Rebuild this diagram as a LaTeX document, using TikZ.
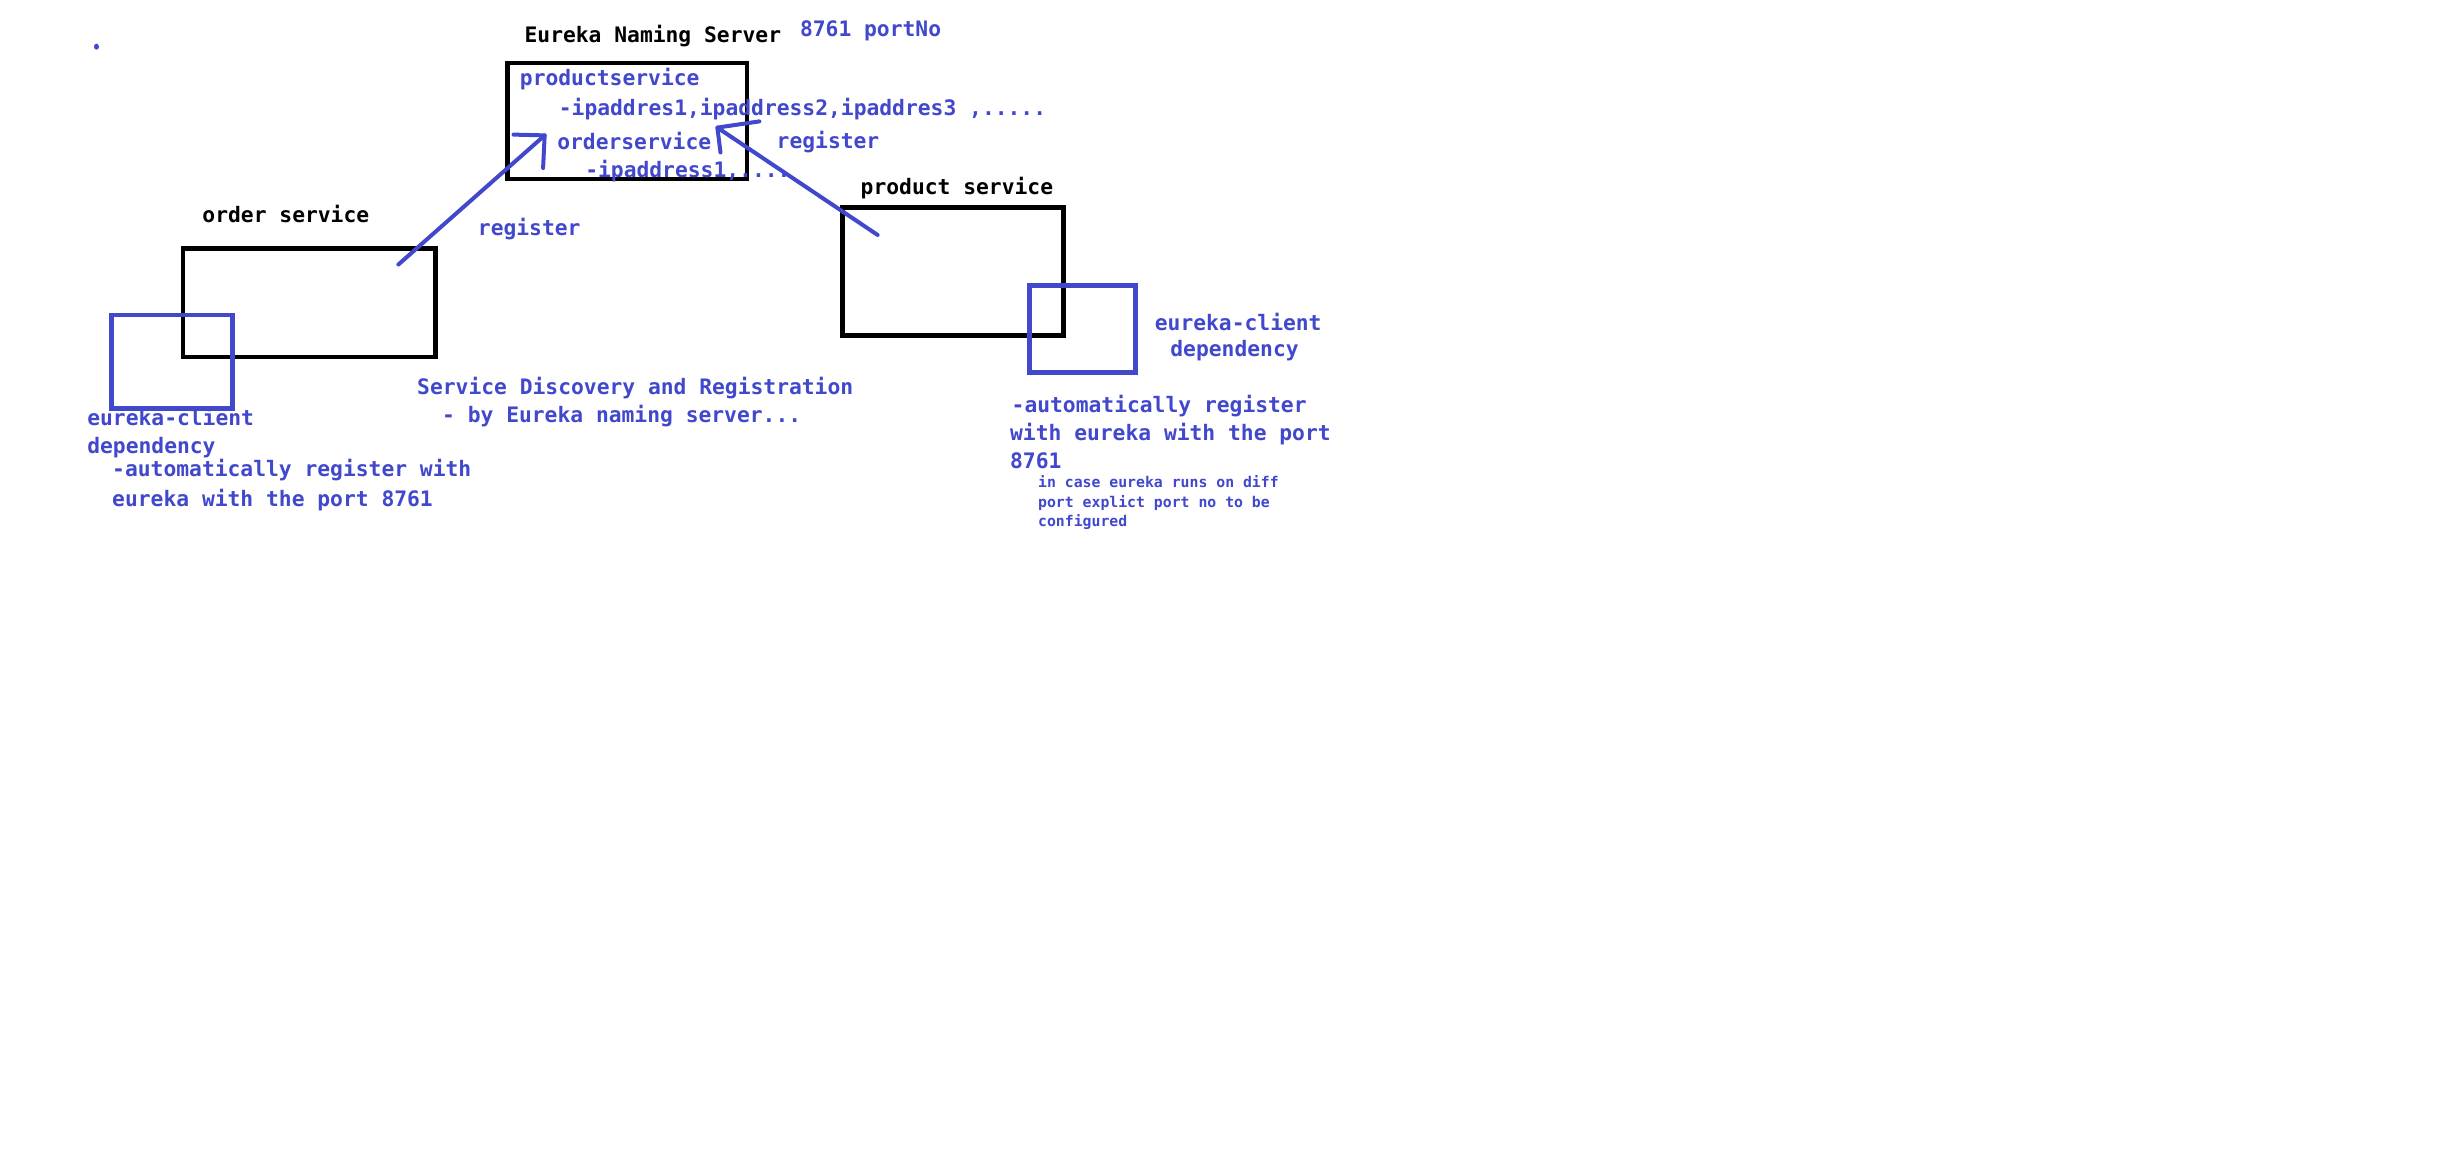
\documentclass[tikz,border=0pt]{standalone}
\usepackage{fontspec}
\setmonofont{DejaVu Sans Mono}
\usetikzlibrary{fit,shapes.geometric}
\definecolor{ink}{RGB}{65,72,204}
\begin{document}
\begin{tikzpicture}[x=1.55612pt,y=-1.55612pt,
  txt/.style={anchor=mid west, inner sep=0, yshift=-6pt, font=\ttfamily\bfseries\fontsize{21.3}{28}\selectfont},
  bluetxt/.style={txt, text=ink},
  blacktxt/.style={txt, text=black},
  smalltxt/.style={anchor=mid west, inner sep=0, yshift=-3pt, text=ink, font=\ttfamily\bfseries\fontsize{14.8}{19}\selectfont},
  blackbox/.style={draw=black, line width=4.6pt, inner sep=0},
  bluebox/.style={draw=ink, line width=4.6pt, inner sep=0},
  pen/.style={draw=ink, line width=4pt, line cap=round, line join=round}]
\useasboundingbox[fill=white] (0,0) rectangle (1568,755.7);

% dot
\node[fill=ink, ellipse, inner sep=0, minimum width=5pt, minimum height=6pt] (dot) at (62,30) {};

% box corners
\coordinate (e1) at (326,40.5); \coordinate (e2) at (480,115);
\coordinate (o1) at (117.5,159.5); \coordinate (o2) at (280,229.5);
\coordinate (l1) at (71.5,202.5); \coordinate (l2) at (149.5,262.5);
\coordinate (p1) at (541.5,133.5); \coordinate (p2) at (683.5,215.5);
\coordinate (r1) at (661.5,183.5); \coordinate (r2) at (729.5,239.5);

\node[blackbox, fit=(e1)(e2)] (eureka) {};
\node[blackbox, fit=(o1)(o2)] (order) {};
\node[blackbox, fit=(p1)(p2)] (product) {};
\node[bluebox, fit=(l1)(l2)] (lclient) {};
\node[bluebox, fit=(r1)(r2)] (rclient) {};

% arrows
\coordinate (os) at (256,170); \coordinate (ot) at (350,87);
\coordinate (oh1) at (330,86.5); \coordinate (oh2) at (349,108);
\coordinate (ps) at (564,151); \coordinate (pt) at (461,82);
\coordinate (ph1) at (488,78); \coordinate (ph2) at (463,98);
\draw[pen] (os) -- (ot);
\draw[pen] (oh1) -- (ot) -- (oh2);
\draw[pen] (ps) -- (pt);
\draw[pen] (ph1) -- (pt) -- (ph2);

% texts
\node[blacktxt] (tEureka) at (337,22) {Eureka Naming Server};
\node[bluetxt] (tPort) at (514,18) {8761 portNo};
\node[bluetxt] (tPs) at (334,50) {productservice};
\node[bluetxt] (tPsIp) at (359,69) {-ipaddres1,ipaddress2,ipaddres3 ,.....};
\node[bluetxt] (tOs) at (358,91) {orderservice};
\node[bluetxt] (tOsIp) at (376,109) {-ipaddress1,....};
\node[bluetxt] (tRegR) at (499,90) {register};
\node[blacktxt] (tOrder) at (130,138) {order service};
\node[bluetxt] (tRegL) at (307,146) {register};
\node[blacktxt] (tProduct) at (553,120) {product service};

\node[bluetxt] (tRc1) at (742,207) {eureka-client};
\node[bluetxt] (tRc2) at (752,224) {dependency};
\node[bluetxt] (tRa1) at (650,260) {-automatically register};
\node[bluetxt] (tRa2) at (649,278) {with eureka with the port};
\node[bluetxt] (tRa3) at (649,296) {8761};
\node[smalltxt] (tS1) at (667,310) {in case eureka runs on diff};
\node[smalltxt] (tS2) at (667,323) {port explict port no to be};
\node[smalltxt] (tS3) at (667,335) {configured};

\node[bluetxt] (tSd1) at (268,248) {Service Discovery and Registration};
\node[bluetxt] (tSd2) at (284,266) {- by Eureka naming server...};

\node[bluetxt] (tLc1) at (56,268) {eureka-client};
\node[bluetxt] (tLc2) at (56,286) {dependency};
\node[bluetxt] (tLa1) at (72,301) {-automatically register with};
\node[bluetxt] (tLa2) at (72,320) {eureka with the port 8761};
\end{tikzpicture}
\end{document}
